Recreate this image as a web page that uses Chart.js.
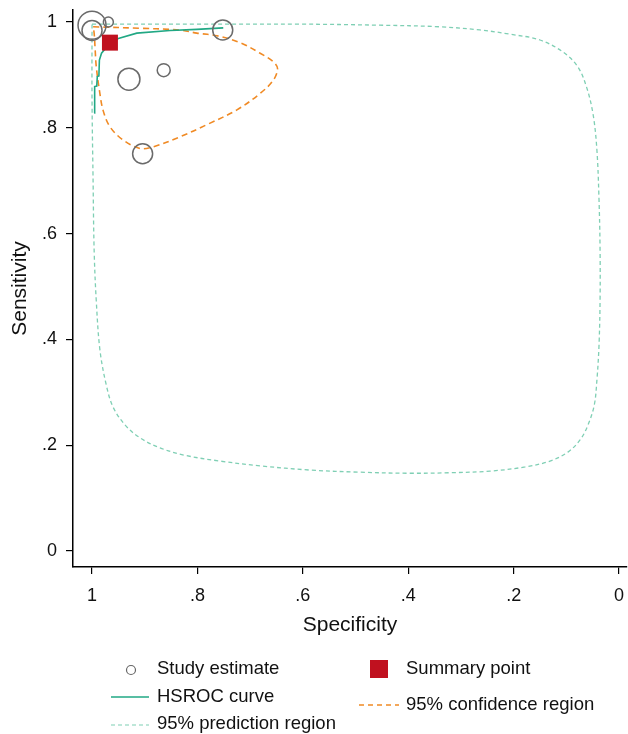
<!DOCTYPE html>
<html>
<head>
<meta charset="utf-8">
<script src="https://cdn.jsdelivr.net/npm/chart.js@4.4.1/dist/chart.umd.min.js"></script>
<style>
    html, body { margin: 0; padding: 0; background: #fff; }
    #wrap { position: relative; width: 628px; height: 734px; font-family: "Liberation Sans", Arial, sans-serif; color: #111; }
    .lg { position: absolute; font-size: 18.5px; line-height: 22px; white-space: nowrap; }
    .mk { position: absolute; }
</style>
</head>
<body>
<div id="wrap">
    <canvas id="srocChart" width="628" height="734"></canvas>

    <svg class="mk" style="left:124px;top:663px" width="14" height="14"><circle cx="7" cy="7" r="4.5" fill="none" stroke="#666" stroke-width="1.2"/></svg>
    <div class="lg" style="left:157px;top:657px">Study estimate</div>
    <svg class="mk" style="left:110px;top:694px" width="40" height="6"><line x1="1" y1="3" x2="39" y2="3" stroke="#21a884" stroke-width="1.5"/></svg>
    <div class="lg" style="left:157px;top:685px">HSROC curve</div>
    <svg class="mk" style="left:110px;top:722px" width="40" height="6"><line x1="1" y1="3" x2="39" y2="3" stroke="#7fcfb4" stroke-width="1.2" stroke-dasharray="4 3"/></svg>
    <div class="lg" style="left:157px;top:712px">95% prediction region</div>

    <svg class="mk" style="left:370px;top:660px" width="18" height="18"><rect x="0" y="0" width="18" height="18" fill="#c0111f"/></svg>
    <div class="lg" style="left:406px;top:657px">Summary point</div>
    <svg class="mk" style="left:358px;top:702px" width="42" height="6"><line x1="1" y1="3" x2="41" y2="3" stroke="#f08a24" stroke-width="1.5" stroke-dasharray="5 4"/></svg>
    <div class="lg" style="left:406px;top:693px">95% confidence region</div>
</div>
<script>
// study estimates (specificity, sensitivity, relative weight)
const studySpec = [1.0, 1.0, 0.969, 0.752, 0.930, 0.864, 0.904];
const studySens = [0.994, 0.984, 1.0, 0.985, 0.892, 0.909, 0.751];
const studyWeight = [196, 100, 25, 100, 121, 42, 100];

// summary point
const summarySpec = [0.966];
const summarySens = [0.961];

// HSROC curve
const hsrocSpec = [0.996, 0.995, 0.995, 0.991, 0.990, 0.987, 0.986, 0.982, 0.972, 0.950, 0.915, 0.852, 0.801, 0.751];
const hsrocSens = [0.828, 0.845, 0.878, 0.879, 0.897, 0.898, 0.928, 0.941, 0.953, 0.969, 0.979, 0.984, 0.986, 0.989];

// 95% confidence region
const confSpec = [0.998, 0.903, 0.852, 0.827, 0.801, 0.763, 0.719, 0.681, 0.656, 0.648, 0.656, 0.681, 0.725, 0.782, 0.833, 0.884, 0.909, 0.941, 0.966, 0.979, 0.986, 0.992, 0.994, 0.996, 0.998];
const confSens = [0.991, 0.988, 0.986, 0.984, 0.979, 0.974, 0.961, 0.941, 0.925, 0.912, 0.890, 0.865, 0.834, 0.806, 0.783, 0.764, 0.761, 0.777, 0.802, 0.833, 0.871, 0.916, 0.947, 0.979, 0.991];

// 95% prediction region
const predSpec = [1.000, 0.795, 0.605, 0.454, 0.340, 0.264, 0.207, 0.150, 0.106, 0.078, 0.061, 0.049, 0.042, 0.038, 0.036, 0.036, 0.038, 0.042, 0.047, 0.059, 0.074, 0.097, 0.131, 0.178, 0.245, 0.321, 0.397, 0.491, 0.586, 0.681, 0.757, 0.824, 0.871, 0.909, 0.937, 0.960, 0.973, 0.985, 0.992, 0.996, 0.998, 1.000, 1.000];
const predSens = [0.996, 0.996, 0.996, 0.994, 0.991, 0.985, 0.977, 0.966, 0.943, 0.915, 0.875, 0.824, 0.758, 0.664, 0.569, 0.474, 0.389, 0.323, 0.276, 0.238, 0.210, 0.187, 0.170, 0.159, 0.151, 0.148, 0.147, 0.149, 0.153, 0.161, 0.170, 0.181, 0.195, 0.214, 0.238, 0.272, 0.314, 0.380, 0.474, 0.569, 0.701, 0.853, 0.996];

const axisTicks = [0, 0.2, 0.4, 0.6, 0.8, 1];

const toPoints = (xs, ys) => xs.map((x, i) => ({ x: x, y: ys[i] }));
const tickLabel = v => (v === 0 ? '0' : v === 1 ? '1' : v.toFixed(1).replace(/^0/, ''));
const setTicks = scale => { scale.ticks = axisTicks.map(v => ({ value: v })); };

const family = '"Liberation Sans", Arial, sans-serif';
const tickFont = { family: family, size: 18 };
const titleFont = { family: family, size: 21 };

const fitX = s => { s.height = 75; };
const fitY = s => { s.width = 73; };

// end tick labels should not shrink the plot area
const noLabelPadding = {
    id: 'noLabelPadding',
    beforeLayout(chart) {
        Object.values(chart.scales).forEach(s => {
            s._calculatePadding = function () {
                this.paddingLeft = this.paddingRight = this.paddingTop = this.paddingBottom = 0;
            };
        });
    }
};

const ctx = document.getElementById('srocChart').getContext('2d');
new Chart(ctx, {
    type: 'scatter',
    plugins: [noLabelPadding],
    data: {
        datasets: [
            {
                label: 'Summary point',
                data: toPoints(summarySpec, summarySens),
                pointStyle: 'rect',
                pointRadius: 11.3,
                backgroundColor: '#c0111f',
                borderColor: '#c0111f',
                borderWidth: 0,
                clip: false
            },
            {
                label: 'Study estimate',
                data: toPoints(studySpec, studySens),
                pointStyle: 'circle',
                pointRadius: studyWeight.map(w => Math.sqrt(w)),
                backgroundColor: 'rgba(0,0,0,0)',
                borderColor: '#6a6a6a',
                borderWidth: 1.5,
                clip: false
            },
            {
                label: 'HSROC curve',
                data: toPoints(hsrocSpec, hsrocSens),
                showLine: true,
                pointRadius: 0,
                borderColor: '#21a884',
                borderWidth: 1.6,
                tension: 0
            },
            {
                label: '95% confidence region',
                data: toPoints(confSpec, confSens),
                showLine: true,
                pointRadius: 0,
                borderColor: '#f08a24',
                borderWidth: 1.6,
                borderDash: [6, 4],
                tension: 0.35
            },
            {
                label: '95% prediction region',
                data: toPoints(predSpec, predSens),
                showLine: true,
                pointRadius: 0,
                borderColor: '#7fcfb4',
                borderWidth: 1.3,
                borderDash: [4, 3],
                tension: 0.35
            }
        ]
    },
    options: {
        responsive: false,
        animation: false,
        layout: { autoPadding: false, padding: { left: 0, right: 1, top: 10, bottom: 92 } },
        plugins: { legend: { display: false }, tooltip: { enabled: false } },
        scales: {
            x: {
                type: 'linear',
                reverse: true,
                min: -0.0151,
                max: 1.0361,
                afterBuildTicks: setTicks,
                afterFit: fitX,
                grid: { drawOnChartArea: false, drawTicks: true, tickLength: 7, color: '#000', lineWidth: 1.2 },
                border: { display: true, color: '#000', width: 1.5 },
                ticks: { callback: tickLabel, color: '#111', font: tickFont, padding: 11, maxRotation: 0 },
                title: { display: true, text: 'Specificity', color: '#111', font: titleFont, padding: { top: 0, bottom: 4.4 } }
            },
            y: {
                type: 'linear',
                min: -0.0302,
                max: 1.0227,
                afterBuildTicks: setTicks,
                afterFit: fitY,
                grid: { drawOnChartArea: false, drawTicks: true, tickLength: 7, color: '#000', lineWidth: 1.2 },
                border: { display: true, color: '#000', width: 1.5 },
                ticks: { callback: tickLabel, color: '#111', font: tickFont, padding: 9 },
                title: { display: true, text: 'Sensitivity', color: '#111', font: titleFont, padding: { top: 7.4, bottom: 0 } }
            }
        }
    }
});
</script>
</body>
</html>
